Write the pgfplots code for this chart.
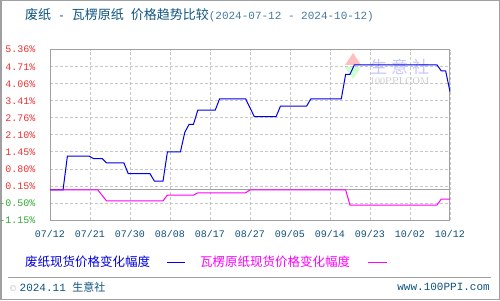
\documentclass[border=0pt]{standalone}
\usepackage{pgfplots}
\pgfplotsset{compat=1.18}
\usepackage{fontspec}
\setmonofont{Liberation Mono}
\newfontfamily\cjk{Noto Sans CJK SC}
\definecolor{titleblue}{RGB}{16,84,130}
\definecolor{datecol}{RGB}{70,120,160}
\definecolor{tickred}{RGB}{240,50,50}
\definecolor{tickgreen}{RGB}{50,170,50}
\definecolor{xblue}{RGB}{16,80,125}
\definecolor{lineblue}{RGB}{0,0,230}
\definecolor{linemag}{RGB}{255,0,255}
\definecolor{gridgray}{RGB}{200,200,200}
\definecolor{framegray}{RGB}{160,160,160}

\pgfplotstableread{
x y
0 0
3 0
4 1.29
9 1.29
10 1.20
12 1.20
13 1.03
17 1.03
18 0.62
23 0.62
24 0.34
26 0.34
27 1.45
30 1.45
31 2.20
32 2.51
33 2.51
34 3.05
38 3.05
39 3.48
45 3.48
46 3.14
47 2.80
52 2.80
53 3.20
59 3.20
60 3.48
67 3.48
68 4.42
69 4.42
70 4.78
89 4.78
90 4.55
91 4.55
92 3.76
}\wastepaper

\pgfplotstableread{
x y
0 0
11 0
13 -0.42
26 -0.42
27 -0.20
33 -0.20
34 -0.11
45 -0.11
46 0
68 0
69 -0.58
89 -0.58
90 -0.35
92 -0.35
}\corrugated

\begin{document}
\begin{tikzpicture}
\useasboundingbox (0pt,0pt) rectangle (500pt,300pt);
\fill[white] (0pt,0pt) rectangle (500pt,300pt);
\draw[framegray, line width=1.5pt] (0.75pt,0.75pt) rectangle (499.25pt,299.25pt);

% title
\node[anchor=west, inner sep=0pt, text=titleblue] at (25pt,285pt)
  {\cjk\fontsize{13}{15}\selectfont 废纸\texttt{\fontsize{11.5}{13}\selectfont{} - }瓦楞原纸\texttt{\fontsize{11.5}{13}\selectfont{} }价格趋势比较\ttfamily\fontsize{11}{13}\selectfont\color{datecol}(2024-07-12 - 2024-10-12)};

% watermark
\fill[red!25] (345pt,235pt) -- (353pt,247pt) -- (361pt,235pt) -- cycle;
\fill[green!20] (345pt,233pt) -- (353pt,221pt) -- (361pt,233pt) -- cycle;
\node[anchor=west, inner sep=0pt, text=blue!22] at (370pt,233pt) {\cjk\fontsize{17}{19}\selectfont 生\hspace{4pt}意\hspace{4pt}社};
\node[anchor=west, inner sep=0pt, text=gray!45] at (370pt,219pt) {\fontsize{10}{12}\selectfont 100PPI.COM};

\begin{axis}[
  at={(50pt,80pt)}, anchor=south west, scale only axis,
  width=400pt, height=170.3pt,
  xmin=0, xmax=92, ymin=-1.15, ymax=5.36,
  axis line style={framegray, line width=1pt},
  xtick={0,9.2,18.4,27.6,36.8,46,55.2,64.4,73.6,82.8,92},
  xticklabels={07/12,07/21,07/30,08/08,08/17,08/27,09/05,09/14,09/23,10/02,10/12},
  ytick={-1.15,-0.499,0.152,0.803,1.454,2.105,2.756,3.407,4.058,4.709,5.36},
  yticklabels={{\color{tickgreen}-1.15\%},{\color{tickgreen}-0.50\%},{\color{tickred}0.15\%},{\color{tickred}0.80\%},{\color{tickred}1.45\%},{\color{tickred}2.10\%},{\color{tickred}2.76\%},{\color{tickred}3.41\%},{\color{tickred}4.06\%},{\color{tickred}4.71\%},{\color{tickred}5.36\%}},
  major tick length=0pt,
  grid=major,
  major grid style={gridgray, dash pattern=on 3pt off 2pt, line width=0.8pt},
  xticklabel style={font=\ttfamily\fontsize{10}{12}\selectfont, text=xblue, yshift=-7pt},
  yticklabel style={font=\ttfamily\fontsize{10}{12}\selectfont, xshift=-11pt},
  extra y ticks={0},
  extra y tick labels={},
  extra y tick style={grid=major, major grid style={framegray, solid, line width=1pt}},
  clip=false,
]
\addplot[lineblue, line width=1pt] table[x=x,y=y] {\wastepaper};
\addplot[linemag, line width=1pt] table[x=x,y=y] {\corrugated};
\end{axis}

% legend
\node[anchor=west, inner sep=0pt, text=lineblue] at (25pt,38pt) {\cjk\fontsize{12.5}{14}\selectfont 废纸现货价格变化幅度};
\draw[lineblue, line width=1pt] (167pt,38pt) -- (185pt,38pt);
\node[anchor=west, inner sep=0pt, text=linemag] at (200pt,38pt) {\cjk\fontsize{12.5}{14}\selectfont 瓦楞原纸现货价格变化幅度};
\draw[linemag, line width=1pt] (368pt,38pt) -- (387pt,38pt);

% footer
\draw[framegray, line width=1pt] (8pt,23pt) -- (491pt,23pt);
\node[anchor=west, inner sep=0pt, text=titleblue] at (10pt,13pt) {{\color{gray!60}\fontsize{9}{11}\selectfont\textcopyright}\ \ttfamily\fontsize{11}{13}\selectfont 2024.11 {\cjk 生意社}};
\node[anchor=east, inner sep=0pt, text=titleblue] at (490pt,13pt) {\ttfamily\fontsize{11}{13}\selectfont www.100PPI.com};
\end{tikzpicture}
\end{document}
